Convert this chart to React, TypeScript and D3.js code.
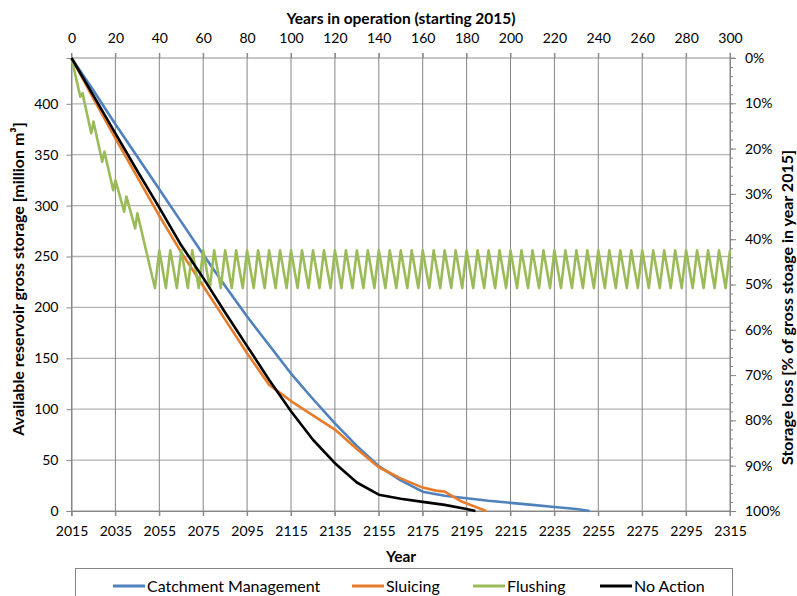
import React, { useEffect, useRef } from "react";
import * as d3 from "d3";

// [years in operation, storage in million m3]
const catchment: [number, number][] = [
  [0, 445], [10, 413], [20, 380], [30, 348], [40, 316], [50, 284], [60, 252],
  [70, 221], [80, 191], [90, 163], [100, 135], [110, 110], [120, 86], [130, 64],
  [140, 44], [150, 30], [160, 19], [170, 15], [180, 12.5], [190, 10], [200, 8],
  [210, 6], [220, 4], [230, 2], [236, 0],
];

const sluicing: [number, number][] = [
  [0, 445], [10, 405], [20, 366], [30, 328], [40, 290], [50, 254], [60, 221],
  [70, 188], [80, 155], [90, 124], [95, 116], [100, 108], [110, 94], [120, 80],
  [130, 61], [140, 43], [150, 32], [160, 23], [166, 20], [170, 19], [178, 9], [189, 0],
];

const noAction: [number, number][] = [
  [0, 445], [10, 408], [20, 371], [30, 334], [40, 298], [50, 261], [60, 229],
  [70, 195], [80, 162], [90, 129], [100, 98], [110, 70], [120, 47], [130, 28],
  [140, 16], [150, 12], [160, 9], [170, 6], [180, 2], [184, 0],
];

const flushing: [number, number][] = [
  [0, 445], [4, 407], [5, 410.5], [9, 371], [10, 382.6], [14, 343], [15, 353],
  [19, 315], [20, 325], [24, 294], [25, 309], [29, 277.7], [30, 292.5],
  [38, 219], [40, 256], [43, 219], [45, 256], [48, 219], [50, 256], [53, 219], [55, 256],
  [58, 219], [60, 256], [63, 219], [65, 256], [68, 219], [70, 256], [73, 219], [75, 256],
  [78, 219], [80, 256], [83, 219], [85, 256], [88, 219], [90, 256], [93, 219], [95, 256],
  [98, 219], [100, 256], [103, 219], [105, 256], [108, 219], [110, 256], [113, 219], [115, 256],
  [118, 219], [120, 256], [123, 219], [125, 256], [128, 219], [130, 256], [133, 219], [135, 256],
  [138, 219], [140, 256], [143, 219], [145, 256], [148, 219], [150, 256], [153, 219], [155, 256],
  [158, 219], [160, 256], [163, 219], [165, 256], [168, 219], [170, 256], [173, 219], [175, 256],
  [178, 219], [180, 256], [183, 219], [185, 256], [188, 219], [190, 256], [193, 219], [195, 256],
  [198, 219], [200, 256], [203, 219], [205, 256], [208, 219], [210, 256], [213, 219], [215, 256],
  [218, 219], [220, 256], [223, 219], [225, 256], [228, 219], [230, 256], [233, 219], [235, 256],
  [238, 219], [240, 256], [243, 219], [245, 256], [248, 219], [250, 256], [253, 219], [255, 256],
  [258, 219], [260, 256], [263, 219], [265, 256], [268, 219], [270, 256], [273, 219], [275, 256],
  [278, 219], [280, 256], [283, 219], [285, 256], [288, 219], [290, 256], [293, 219], [295, 256],
  [298, 219], [300, 256],
];

const yearTicks = [0, 20, 40, 60, 80, 100, 120, 140, 160, 180, 200, 220, 240, 260, 280, 300];
const storageTicks = [0, 50, 100, 150, 200, 250, 300, 350, 400];
const lossTicks = [0, 10, 20, 30, 40, 50, 60, 70, 80, 90, 100];
const startYear = 2015;
const grossStorage = 445;

const series = [
  { name: "Catchment Management", data: catchment, color: "#4f81bd" },
  { name: "Sluicing", data: sluicing, color: "#e77d2c" },
  { name: "Flushing", data: flushing, color: "#9bbb59" },
  { name: "No Action", data: noAction, color: "#000000" },
];

const drawChart = (node: SVGSVGElement) => {
  const font = "Lato, 'Open Sans', sans-serif";
  const left = 71.5, right = 730, top = 58, bottom = 511;

  const svg = d3.select(node);
  svg.selectAll("*").remove();

  const x = d3.scaleLinear().domain([0, 300]).range([left, right]);
  const y = d3.scaleLinear().domain([0, grossStorage]).range([bottom, top]);
  const pct = d3.scaleLinear().domain([0, 100]).range([top, bottom]);

  // gridlines
  svg.append("g")
    .selectAll("line")
    .data(storageTicks)
    .enter()
    .append("line")
    .attr("x1", left).attr("x2", right)
    .attr("y1", d => y(d)).attr("y2", d => y(d))
    .attr("stroke", "#b3b3b3").attr("stroke-width", 1.3);
  svg.append("line")
    .attr("x1", left).attr("x2", right + 5)
    .attr("y1", top).attr("y2", top)
    .attr("stroke", "#b3b3b3").attr("stroke-width", 1.3);
  svg.append("g")
    .selectAll("line")
    .data(yearTicks)
    .enter()
    .append("line")
    .attr("x1", d => x(d)).attr("x2", d => x(d))
    .attr("y1", top - 5).attr("y2", bottom + 5)
    .attr("stroke", "#868686").attr("stroke-width", 1);

  // left axis
  const leftAxis = svg.append("g")
    .attr("transform", "translate(" + left + ",0)")
    .call(d3.axisLeft(y).tickValues(storageTicks).tickSize(5).tickPadding(8));
  // bottom axis
  const bottomAxis = svg.append("g")
    .attr("transform", "translate(0," + bottom + ")")
    .call(d3.axisBottom(x).tickValues(yearTicks).tickSize(5).tickPadding(10)
      .tickFormat(d => String(startYear + (d as number))));
  // top axis
  const topAxis = svg.append("g")
    .attr("transform", "translate(0," + top + ")")
    .call(d3.axisTop(x).tickValues(yearTicks).tickSize(5).tickPadding(10)
      .tickFormat(d => String(d)));
  // right axis, minor ticks every 2%
  svg.append("g")
    .attr("transform", "translate(" + right + ",0)")
    .call(d3.axisRight(pct).tickValues(d3.range(0, 101, 2)).tickSize(3).tickFormat(() => ""))
    .call(g => g.select(".domain").remove());
  const rightAxis = svg.append("g")
    .attr("transform", "translate(" + right + ",0)")
    .call(d3.axisRight(pct).tickValues(lossTicks).tickSize(6).tickPadding(9)
      .tickFormat(d => d + "%"));

  [leftAxis, bottomAxis, topAxis, rightAxis].forEach(g => {
    g.selectAll(".domain").attr("stroke", "#868686");
    g.selectAll("text").attr("font-family", font).attr("font-size", 14).attr("fill", "#000");
  });
  svg.selectAll(".tick line").attr("stroke", "#868686");
  topAxis.select(".domain").remove();

  // lines
  const line = d3.line<[number, number]>().x(d => x(d[0])).y(d => y(d[1]));
  series.forEach(s => {
    svg.append("path")
      .datum(s.data)
      .attr("d", line)
      .attr("fill", "none")
      .attr("stroke", s.color)
      .attr("stroke-width", 2.6)
      .attr("stroke-linejoin", "round");
  });

  // titles
  const title = (t: string, tr: string, anchor = "middle", size = 15.5) =>
    svg.append("text")
      .attr("transform", tr)
      .attr("text-anchor", anchor)
      .attr("font-family", font).attr("font-size", size).attr("font-weight", "bold")
      .text(t);
  title("Years in operation (starting 2015)", "translate(401,24)");
  title("Year", "translate(401,562)");
  title("Available reservoir gross storage [million m³]", "translate(24,279) rotate(-90)", "middle", 16);
  title("Storage loss [% of gross stoage in year 2015]", "translate(793,150) rotate(-90)", "end", 16);

  // legend
  svg.append("rect")
    .attr("x", 75.5).attr("y", 568.5).attr("width", 657).attr("height", 40)
    .attr("fill", "#fff").attr("stroke", "#868686");
  const legendX = [113, 352, 473, 600];
  const legend = svg.append("g")
    .selectAll("g")
    .data(series)
    .enter()
    .append("g")
    .attr("transform", (d, i) => "translate(" + legendX[i] + ",586)");
  legend.append("line")
    .attr("x1", 0).attr("x2", 32)
    .attr("stroke", d => d.color).attr("stroke-width", 3);
  legend.append("text")
    .attr("x", 34).attr("dy", "0.35em")
    .attr("font-family", font).attr("font-size", 16)
    .text(d => d.name);
};

export default function App() {
  const ref = useRef<SVGSVGElement>(null);

  useEffect(() => {
    if (ref.current) drawChart(ref.current);
  }, []);

  return (
    <svg
      ref={ref}
      width={797}
      height={596}
      style={{ position: "absolute", left: 0, top: 0, background: "#fff" }}
    />
  );
}
